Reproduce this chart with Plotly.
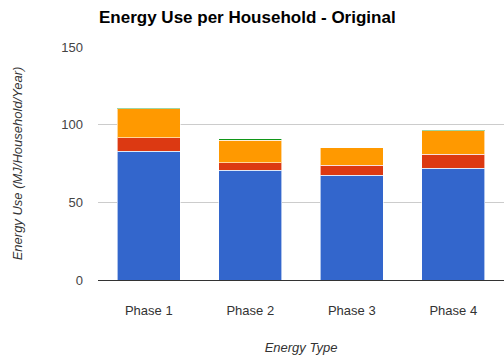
import plotly.graph_objects as go

phases = ["Phase 1", "Phase 2", "Phase 3", "Phase 4"]
series_names = ["Electricity", "Gas", "Heating", "Other"]
electricity = [83.0, 70.5, 67.3, 72.0]
gas = [8.6, 5.0, 6.7, 9.0]
heating = [18.5, 14.5, 11.0, 15.0]
other = [0.7, 0.8, 0.3, 0.7]

colors = ["#3366CC", "#DC3912", "#FF9900", "#109618"]
values = [electricity, gas, heating, other]

fig = go.Figure()
for name, vals, col in zip(series_names, values, colors):
    fig.add_trace(go.Bar(
        x=phases, y=vals, name=name,
        marker=dict(color=col, line=dict(color="rgba(255,255,255,0.6)", width=1)),
    ))

fig.update_layout(
    barmode="stack",
    bargap=0.383,
    width=504, height=358,
    margin=dict(l=98, r=0, t=47, b=78),
    paper_bgcolor="white", plot_bgcolor="white",
    showlegend=False,
    font=dict(family="Liberation Sans, Arial, sans-serif", color="#444444"),
    title=dict(
        text="<b>Energy Use per Household - Original</b>",
        x=99 / 504, xanchor="left", xref="container",
        y=1 - 17 / 358, yanchor="middle", yref="container",
        font=dict(size=17, color="#000000", family="Liberation Sans, Arial, sans-serif"),
    ),
    xaxis=dict(
        title=dict(text="<i>Energy Type</i>", font=dict(size=13, color="#333333"), standoff=26),
        tickfont=dict(size=13, color="#333333"),
        showline=True, linecolor="#333333", linewidth=1,
        ticks="", showgrid=False,
        ticklabelstandoff=18,
    ),
    yaxis=dict(
        title=dict(text="<i>Energy Use (MJ/Household/Year)</i>", font=dict(size=13, color="#333333"), standoff=35),
        range=[0, 150],
        tickvals=[0, 50, 100, 150],
        tickfont=dict(size=13, color="#444444"),
        gridcolor="#CCCCCC", gridwidth=1,
        zeroline=False, showline=False,
        ticks="", ticklabelstandoff=14,
    ),
)

fig.write_html("out.html")
